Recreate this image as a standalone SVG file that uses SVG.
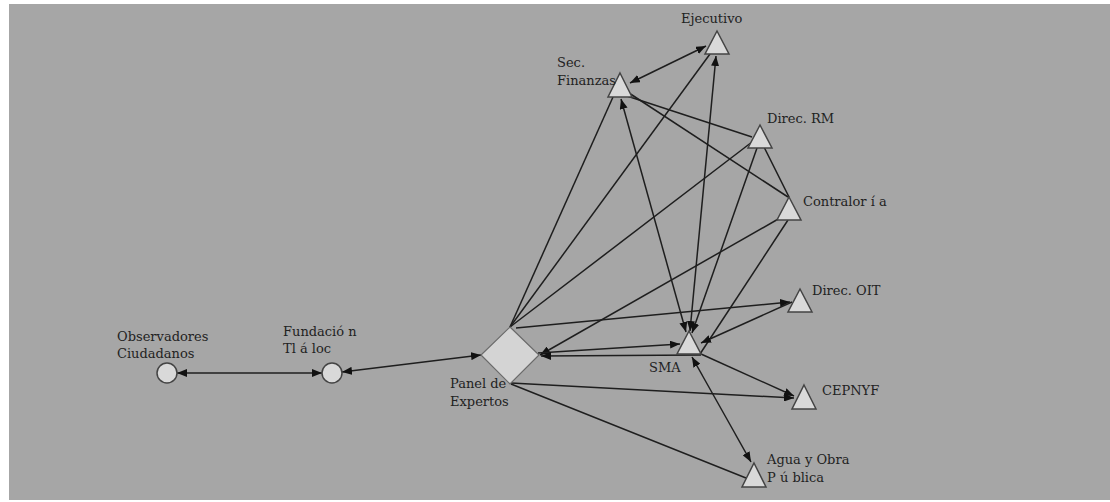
<svg xmlns="http://www.w3.org/2000/svg" width="1110" height="502" viewBox="0 0 1110 502">
<defs>
<marker id="ah" viewBox="0 0 10 8" refX="10" refY="4" markerWidth="10" markerHeight="8" markerUnits="userSpaceOnUse" orient="auto-start-reverse">
<path d="M0,0 L10,4 L0,8 z" fill="#111"/>
</marker>
<style>
.bg{fill:#a6a6a6}
.e{stroke:#1e1e1e;stroke-width:1.5;fill:none}
.a{marker-end:url(#ah)}
.b{marker-start:url(#ah);marker-end:url(#ah)}
.n{fill:#d9d9d9;stroke:#444;stroke-width:1.5}
.d{fill:#d4d4d4;stroke:#6a6a6a;stroke-width:1.2}
text{font-family:"DejaVu Serif","Liberation Serif",serif;font-size:13px;fill:#222}
</style>
</defs>
<rect class="bg" x="9" y="4" width="1101" height="496"/>
<g id="connectors">
<line class="e b" x1="177" y1="373" x2="322" y2="373"/>
<line class="e b" x1="342" y1="372" x2="481" y2="355"/>
<line class="e b" x1="630" y1="83" x2="706" y2="46"/>
<line class="e" x1="510" y1="327" x2="613" y2="97"/>
<line class="e" x1="510" y1="327" x2="710" y2="54"/>
<line class="e b" x1="690" y1="331" x2="716" y2="56"/>
<line class="e b" x1="686" y1="332" x2="621" y2="99"/>
<line class="e" x1="627" y1="96" x2="752" y2="137"/>
<line class="e" x1="629" y1="93" x2="788" y2="197"/>
<line class="e" x1="764" y1="147" x2="789" y2="197"/>
<line class="e" x1="752" y1="142" x2="510" y2="327"/>
<line class="e a" x1="757" y1="148" x2="692" y2="333"/>
<line class="e a" x1="780" y1="218" x2="540" y2="355"/>
<line class="e" x1="788" y1="220" x2="700" y2="354"/>
<line class="e a" x1="516" y1="328" x2="790" y2="302"/>
<line class="e a" x1="792" y1="302" x2="701" y2="343"/>
<line class="e a" x1="538" y1="353" x2="680" y2="344"/>
<line class="e a" x1="701" y1="355" x2="541" y2="356"/>
<line class="e a" x1="511" y1="383" x2="794" y2="398"/>
<line class="e a" x1="701" y1="354" x2="794" y2="396"/>
<line class="e" x1="511" y1="384" x2="746" y2="478"/>
<line class="e b" x1="692" y1="357" x2="751" y2="462"/>
</g>
<g id="observadores">
<circle class="n" cx="167" cy="373" r="10"/>
<text x="117" y="341">Observadores</text>
<text x="117" y="358">Ciudadanos</text>
</g>
<g id="fundacion">
<circle class="n" cx="332" cy="373" r="10"/>
<text x="283" y="336">Fundació n</text>
<text x="283" y="353">Tl á loc</text>
</g>
<g id="panel">
<polygon class="d" points="510,327 539,355 510,384 481,355"/>
<text x="450" y="388">Panel de</text>
<text x="450" y="406">Expertos</text>
</g>
<g id="ejecutivo">
<polygon class="n" points="717,31 729,54 705,54"/>
<text x="681" y="23">Ejecutivo</text>
</g>
<g id="secfinanzas">
<polygon class="n" points="620,73 632,97 608,97"/>
<text x="557" y="67">Sec.</text>
<text x="557" y="85">Finanzas</text>
</g>
<g id="direcrm">
<polygon class="n" points="760,125 772,148 748,148"/>
<text x="767" y="123">Direc. RM</text>
</g>
<g id="contraloria">
<polygon class="n" points="789,197 801,220 777,220"/>
<text x="803" y="206">Contralor í a</text>
</g>
<g id="direcoit">
<polygon class="n" points="800,289 812,312 788,312"/>
<text x="812" y="295">Direc. OIT</text>
</g>
<g id="sma">
<polygon class="n" points="689,331 701,354 677,354"/>
<text x="649" y="372">SMA</text>
</g>
<g id="cepnyf">
<polygon class="n" points="804,385 816,409 792,409"/>
<text x="822" y="395">CEPNYF</text>
</g>
<g id="agua">
<polygon class="n" points="754,463 766,487 742,487"/>
<text x="767" y="464">Agua y Obra</text>
<text x="767" y="482">P ú blica</text>
</g>
</svg>
